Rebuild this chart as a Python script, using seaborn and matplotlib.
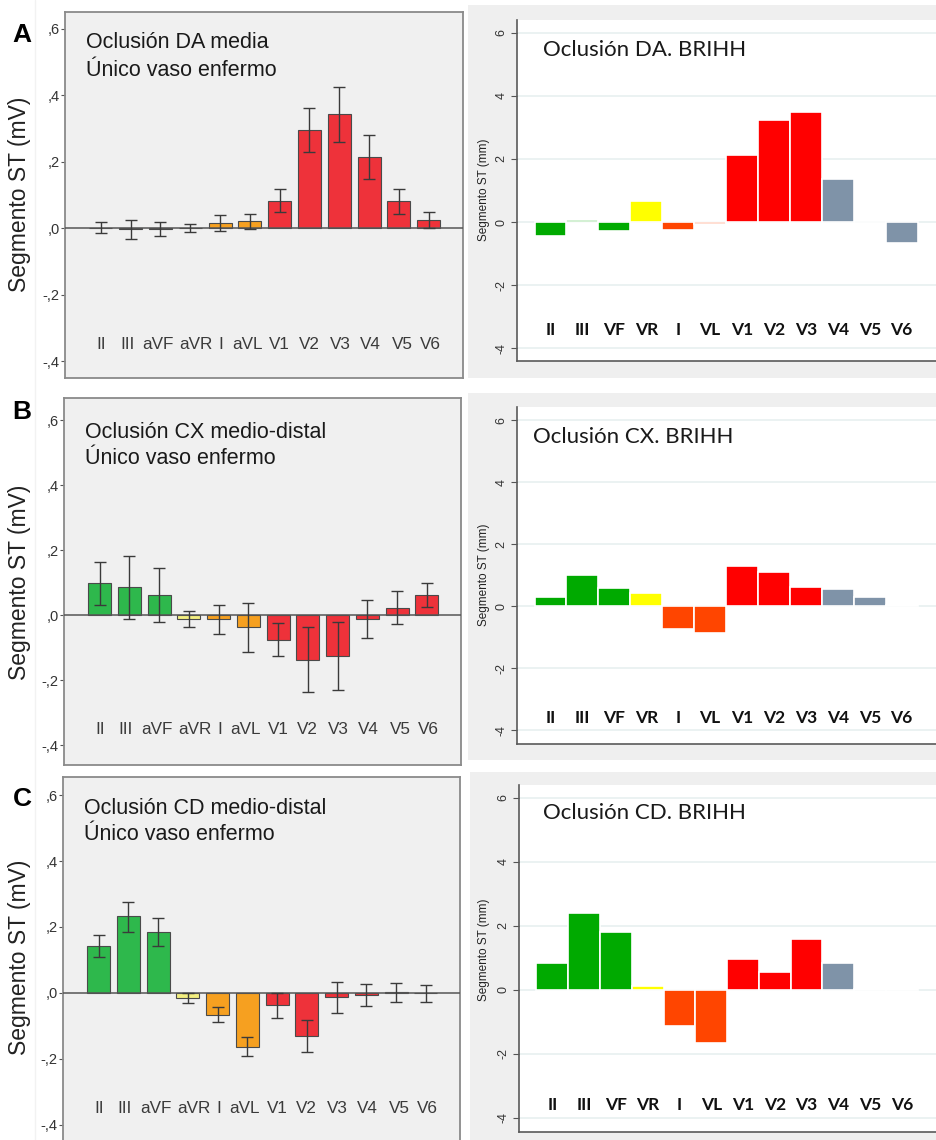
import matplotlib
matplotlib.use("Agg")
import matplotlib.pyplot as plt
import seaborn as sns
import numpy as np
import pandas as pd
from matplotlib.patches import Rectangle
from matplotlib.ticker import FixedLocator, FuncFormatter

sns.set_theme(style="white")
plt.rcParams['font.family'] = ['Liberation Sans', 'DejaVu Sans']

W, H = 936, 1140

# ---------------- data ----------------
leads_mv = ["II", "III", "aVF", "aVR", "I", "aVL", "V1", "V2", "V3", "V4", "V5", "V6"]
leads_mm = ["II", "III", "VF", "VR", "I", "VL", "V1", "V2", "V3", "V4", "V5", "V6"]

# Panel A left (mV): mean, CI low, CI high
da_mean = [0.001, -0.004, -0.002, 0.000, 0.015, 0.020, 0.082, 0.295, 0.343, 0.215, 0.080, 0.024]
da_lo = [-0.015, -0.034, -0.023, -0.013, -0.009, -0.002, 0.049, 0.229, 0.259, 0.149, 0.043, 0.000]
da_hi = [0.017, 0.024, 0.017, 0.011, 0.039, 0.042, 0.117, 0.361, 0.425, 0.280, 0.117, 0.047]

# Panel B left (mV)
cx_mean = [0.099, 0.086, 0.062, -0.012, -0.012, -0.037, -0.075, -0.137, -0.124, -0.012, 0.024, 0.061]
cx_lo = [0.033, -0.010, -0.022, -0.037, -0.058, -0.113, -0.124, -0.236, -0.230, -0.071, -0.026, 0.025]
cx_hi = [0.164, 0.183, 0.145, 0.013, 0.033, 0.038, -0.025, -0.037, -0.019, 0.046, 0.075, 0.099]

# Panel C left (mV)
cd_mean = [0.142, 0.232, 0.184, -0.016, -0.067, -0.164, -0.038, -0.132, -0.013, -0.006, 0.001, -0.002]
cd_lo = [0.109, 0.186, 0.142, -0.032, -0.090, -0.193, -0.076, -0.181, -0.062, -0.039, -0.029, -0.029]
cd_hi = [0.175, 0.277, 0.226, -0.002, -0.043, -0.134, 0.000, -0.084, 0.034, 0.027, 0.029, 0.023]

# Right panels (mm), BRIHH
da_brihh = [-0.45, 0.07, -0.28, 0.68, -0.26, -0.06, 2.13, 3.24, 3.48, 1.36, 0.0, -0.66]
cx_brihh = [0.28, 1.00, 0.57, 0.41, -0.73, -0.87, 1.29, 1.09, 0.62, 0.55, 0.30, 0.02]
cd_brihh = [0.85, 2.40, 1.82, 0.13, -1.12, -1.65, 0.98, 0.57, 1.58, 0.83, 0.02, 0.02]

left_titles = [("Oclusión DA media", "Único vaso enfermo"),
               ("Oclusión CX medio-distal", "Único vaso enfermo"),
               ("Oclusión CD medio-distal", "Único vaso enfermo")]
right_titles = ["Oclusión DA. BRIHH", "Oclusión CX. BRIHH", "Oclusión CD. BRIHH"]
letters = ["A", "B", "C"]

left_ticks = [-0.4, -0.2, 0.0, 0.2, 0.4, 0.6]
right_ticks = [-4, -2, 0, 2, 4, 6]

# ---------------- styles ----------------
LG, LY, LO, LR = "#2eb84c", "#f3ef80", "#f6a020", "#ee323a"
left_colors = [LG, LG, LG, LY, LO, LO, LR, LR, LR, LR, LR, LR]
RG, RY, RO, RR, RS = "#00aa00", "#ffff00", "#ff4500", "#ff0000", "#7f93a8"
right_colors = [RG, RG, RG, RY, RO, RO, RR, RR, RR, RS, RS, RS]
# small horizontal nudges of the left category labels (layout only)
left_label_nudge = [0.0, -0.12, -0.08, 0.2, 0.03, -0.08, 0.0, 0.0, 0.03, 0.05, 0.1, 0.05]

fig = plt.figure(figsize=(W / 100, H / 100), dpi=100)
fig.patch.set_facecolor("white")


def add_ax(l, t, r, b):
    return fig.add_axes([l / W, 1 - b / H, (r - l) / W, (b - t) / H])


def ftext(x, y, s, **kw):
    return fig.text(x / W, 1 - y / H, s, **kw)


def fmt_left(v, pos):
    s = f"{v:.1f}".replace("0.", ".").replace(".", ",")
    if s in ("-,0",):
        s = ",0"
    return s


left_rects = [(65, 12, 463, 378), (64, 398, 461, 765), (63, 777, 460, 1143)]
left_ylims = [(-0.451, 0.65), (-0.46, 0.668), (-0.456, 0.655)]
left_title_pos = [(86, 43, 71), (85, 432, 459), (84, 808, 835)]
letter_pos = [(22, 35), (22, 412), (22, 799)]
left_ylabel_y = [194, 582, 957]

left_data = [(da_mean, da_lo, da_hi), (cx_mean, cx_lo, cx_hi), (cd_mean, cd_lo, cd_hi)]

for k in range(3):
    ax = add_ax(*left_rects[k])
    ax.set_facecolor("#f0f0f0")
    mean, lo, hi = (np.array(a) for a in left_data[k])
    df = pd.DataFrame({"lead": leads_mv, "st": mean})
    sns.barplot(data=df, x="lead", y="st", hue="lead", order=leads_mv, hue_order=leads_mv,
                palette=left_colors, legend=False, width=0.77, edgecolor="#4a4a4a",
                linewidth=0.8, errorbar=None, saturation=1, ax=ax, zorder=2)
    ax.axhline(0, color="#555555", lw=1.1, zorder=3)
    ax.errorbar(np.arange(len(leads_mv)), mean, yerr=[mean - lo, hi - mean], fmt="none",
                ecolor="#3a3a3a", elinewidth=1.0, capsize=4, capthick=1.0, zorder=4)
    ax.set_xlim(-1.2, 12.15)
    ax.set_ylim(*left_ylims[k])
    ax.set_xticks([])
    ax.set_xlabel("")
    ax.set_ylabel("")
    ax.yaxis.set_major_locator(FixedLocator(left_ticks))
    ax.yaxis.set_major_formatter(FuncFormatter(fmt_left))
    ax.tick_params(axis="y", left=True, length=3, width=0.8, color="#555555", direction="out",
                   labelsize=10.5, labelcolor="#333333", pad=1)
    for sp in ax.spines.values():
        sp.set_visible(True)
        sp.set_color("#8a8a8a")
        sp.set_linewidth(1.3)
    for i, lab in enumerate(leads_mv):
        ax.text(i + left_label_nudge[i], -0.35, lab, ha="center", va="center",
                fontsize=12.3, color="#3a3a3a")
    tx, ty1, ty2 = left_title_pos[k]
    ftext(tx, ty1, left_titles[k][0], fontsize=15.5, color="#1a1a1a", va="center", ha="left")
    ftext(tx, ty2, left_titles[k][1], fontsize=15.5, color="#1a1a1a", va="center", ha="left")
    lx, ly = letter_pos[k]
    ftext(lx, ly, letters[k], fontsize=19, fontweight="bold", color="black", ha="center", va="center")
    ftext(20, left_ylabel_y[k], "Segmento ST (mV)", fontsize=16.5, rotation=90,
          ha="center", va="center", color="#222222")

# faint vertical separator line at left
fig.add_artist(plt.Line2D([35 / W, 35 / W], [0, 1], transform=fig.transFigure,
                          color="#f2f2f2", lw=1, zorder=-2))

right_outer = [(468, 5, 936, 378), (468, 393, 936, 760), (470, 772, 936, 1140)]
right_rects = [(517, 20, 940, 361), (517, 407, 940, 744), (519, 785, 940, 1132)]
right_ylims = [(-4.41, 6.41), (-4.45, 6.42), (-4.44, 6.4)]
right_title_pos = [(543, 50), (533, 437), (543, 813)]
right_ylabel_y = [190, 575, 950]
right_label_y = [-3.43, -3.6, -3.6]
right_data = [da_brihh, cx_brihh, cd_brihh]

for k in range(3):
    l, t, r, b = right_outer[k]
    fig.add_artist(Rectangle((l / W, 1 - b / H), (r - l) / W, (b - t) / H,
                             transform=fig.transFigure, facecolor="#efefef",
                             edgecolor="none", zorder=-1))
    ax = add_ax(*right_rects[k])
    ax.set_facecolor("white")
    df = pd.DataFrame({"lead": leads_mm, "st": right_data[k]})
    sns.barplot(data=df, x="lead", y="st", hue="lead", order=leads_mm, hue_order=leads_mm,
                palette=right_colors, legend=False, width=1.0, edgecolor="white",
                linewidth=1.2, errorbar=None, saturation=1, ax=ax, zorder=2)
    ax.set_xlim(-1.05, 12.2)
    ax.set_ylim(*right_ylims[k])
    ax.set_xticks([])
    ax.set_xlabel("")
    ax.set_ylabel("")
    ax.yaxis.set_major_locator(FixedLocator(right_ticks))
    ax.yaxis.set_major_formatter(FuncFormatter(lambda v, p: f"{v:.0f}"))
    ax.yaxis.grid(True, color="#e8f0f0", lw=1.2)
    ax.set_axisbelow(True)
    ax.tick_params(axis="y", left=True, length=4, width=0.8, color="#555555", direction="out",
                   labelsize=9, labelcolor="#333333", pad=3, labelrotation=90)
    for lab in ax.get_yticklabels():
        lab.set_va("center")
    ax.spines["top"].set_visible(False)
    ax.spines["right"].set_visible(False)
    ax.spines["left"].set_color("#5a5a5a")
    ax.spines["bottom"].set_color("#5a5a5a")
    ax.spines["left"].set_linewidth(1.2)
    ax.spines["bottom"].set_linewidth(1.2)
    for i, lab in enumerate(leads_mm):
        ax.text(i, right_label_y[k], lab, ha="center", va="center", fontsize=12.5,
                fontweight="bold", color="#111111", family=["Lato", "DejaVu Sans"])
    tx, ty = right_title_pos[k]
    ftext(tx, ty, right_titles[k], fontsize=16, color="#1a1a1a", va="center", ha="left",
          family=["Lato", "DejaVu Sans"])
    ftext(484, right_ylabel_y[k], "Segmento ST (mm)", fontsize=8.5, rotation=90,
          ha="center", va="center", color="#222222")

fig.savefig("out.png", dpi=100)
